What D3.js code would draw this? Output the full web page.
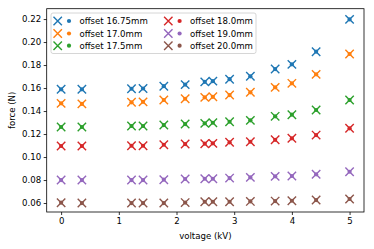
<!DOCTYPE html>
<html>
<head>
<meta charset="utf-8">
<script src="https://cdn.jsdelivr.net/npm/d3@7"></script>
<style>
html,body{margin:0;padding:0;background:#fff;}
svg{display:block;font-family:"DejaVu Sans",sans-serif;}
</style>
</head>
<body>
<svg id="chart" width="374" height="249"></svg>
<script>
const voltage = [0, 0.36, 1.22, 1.42, 1.78, 2.15, 2.49, 2.63, 2.92, 3.28, 3.71, 4.0, 4.42, 5.0];
const seriesNames = ["offset 16.75mm", "offset 17.0mm", "offset 17.5mm", "offset 18.0mm", "offset 19.0mm", "offset 20.0mm"];
const colors = ["#1f77b4", "#ff7f0e", "#2ca02c", "#d62728", "#9467bd", "#8c564b"];
const force1675 = [0.1589, 0.1589, 0.1594, 0.1596, 0.1616, 0.1630, 0.1654, 0.1660, 0.1677, 0.1702, 0.1765, 0.1806, 0.1916, 0.2197];
const force170  = [0.1467, 0.1462, 0.1476, 0.1480, 0.1496, 0.1507, 0.1519, 0.1524, 0.1539, 0.1563, 0.1606, 0.1641, 0.1719, 0.1896];
const force175  = [0.1261, 0.1261, 0.1270, 0.1270, 0.1278, 0.1287, 0.1293, 0.1298, 0.1307, 0.1319, 0.1354, 0.1368, 0.1409, 0.1496];
const force180  = [0.1096, 0.1096, 0.1098, 0.1098, 0.1107, 0.1113, 0.1116, 0.1119, 0.1128, 0.1133, 0.1150, 0.1163, 0.1191, 0.1250];
const force190  = [0.0800, 0.0800, 0.0800, 0.0800, 0.0803, 0.0809, 0.0811, 0.0811, 0.0817, 0.0823, 0.0832, 0.0835, 0.0850, 0.0872];
const force200  = [0.0603, 0.0600, 0.0600, 0.0600, 0.0600, 0.0604, 0.0611, 0.0611, 0.0611, 0.0614, 0.0617, 0.0620, 0.0626, 0.0635];
const xTicks = [0, 1, 2, 3, 4, 5];
const yTicks = [0.06, 0.08, 0.10, 0.12, 0.14, 0.16, 0.18, 0.20, 0.22];

const allForces = [force1675, force170, force175, force180, force190, force200];

const svg = d3.select("#chart");
const L = 46.7, R = 364, T = 8.7, B = 212;
const x = d3.scaleLinear().domain([-0.25, 5.25]).range([L, R]);
const y = d3.scaleLinear().domain([0.0522, 0.2290]).range([B, T]);

const fs = 8.6;

// axes
const xAxis = svg.append("g").attr("transform", `translate(0,${B})`)
  .call(d3.axisBottom(x).tickValues(xTicks).tickFormat(d3.format("d")).tickSize(3).tickPadding(2.5));
const yAxis = svg.append("g").attr("transform", `translate(${L},0)`)
  .call(d3.axisLeft(y).tickValues(yTicks).tickFormat(d3.format(".2f")).tickSize(3).tickPadding(2.5));
[xAxis, yAxis].forEach(g => {
  g.select(".domain").remove();
  g.selectAll("text").attr("font-size", fs).attr("font-family", "DejaVu Sans").attr("fill", "#000");
  g.selectAll("line").attr("stroke", "#000").attr("stroke-width", 0.8);
});

// marks
const xs = 4.2;
function drawX(g, cx, cy, color) {
  g.append("path")
    .attr("d", `M${cx - xs},${cy - xs}L${cx + xs},${cy + xs}M${cx - xs},${cy + xs}L${cx + xs},${cy - xs}`)
    .attr("stroke", color).attr("stroke-width", 1.4).attr("fill", "none");
}
const marks = svg.append("g");
allForces.forEach((arr, si) => {
  const g = marks.append("g");
  voltage.forEach((v, i) => drawX(g, x(v), y(arr[i]), colors[si]));
  voltage.forEach((v, i) => g.append("circle").attr("cx", x(v)).attr("cy", y(arr[i])).attr("r", 2.1).attr("fill", colors[si]));
});

// frame
svg.append("rect").attr("x", L).attr("y", T).attr("width", R - L).attr("height", B - T)
  .attr("fill", "none").attr("stroke", "#000").attr("stroke-width", 0.8);

// legend
const lg = svg.append("g");
lg.append("rect").attr("x", 51).attr("y", 13).attr("width", 205).attr("height", 40.5)
  .attr("rx", 2).attr("fill", "#fff").attr("fill-opacity", 0.8).attr("stroke", "#cccccc").attr("stroke-width", 0.8);
const rowY = [21, 33.5, 45.7];
const colX = [57.7, 168.3];
seriesNames.forEach((name, i) => {
  const c = Math.floor(i / 3), r = i % 3;
  const cx = colX[c], cy = rowY[r];
  drawX(lg, cx, cy, colors[i]);
  lg.append("circle").attr("cx", cx + 11.3).attr("cy", cy).attr("r", 2.1).attr("fill", colors[i]);
  lg.append("text").attr("x", cx + 21.7).attr("y", cy).attr("dy", "0.35em")
    .attr("font-size", fs).attr("fill", "#000").text(name);
});

// axis labels
svg.append("text").attr("x", (L + R) / 2).attr("y", 238.5).attr("text-anchor", "middle")
  .attr("font-size", fs).text("voltage (kV)");
svg.append("text").attr("transform", `translate(15,${(T + B) / 2}) rotate(-90)`).attr("text-anchor", "middle")
  .attr("font-size", fs).text("force (N)");
</script>
</body>
</html>
